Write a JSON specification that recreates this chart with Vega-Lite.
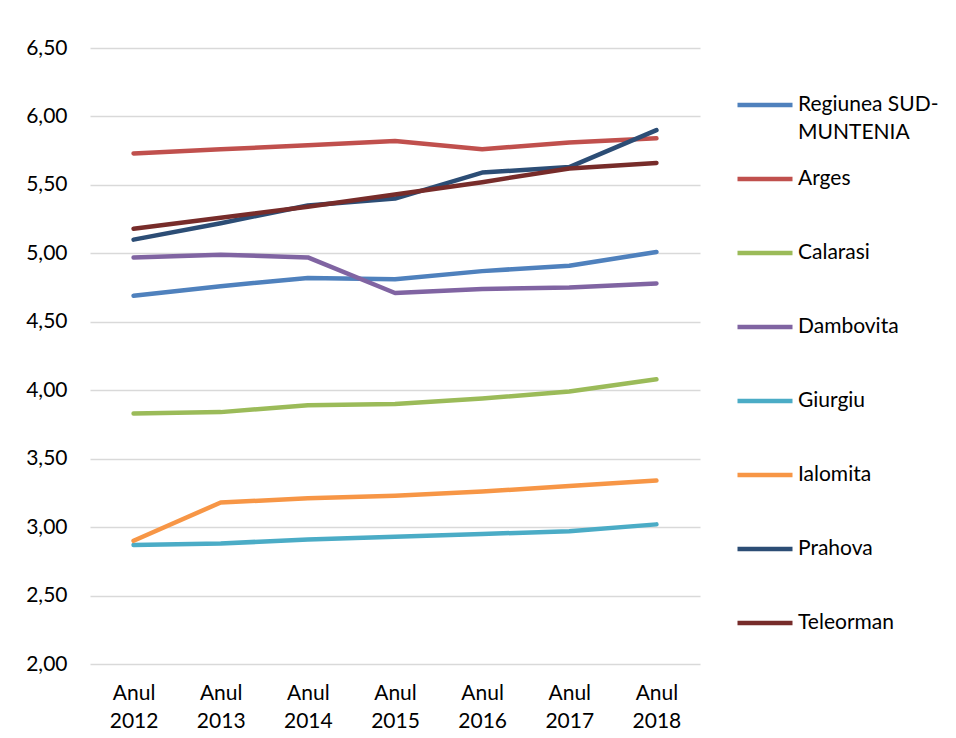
{
  "$schema": "https://vega.github.io/schema/vega-lite/v6.json",
  "autosize": {"type": "none"},
  "padding": {"left": 90, "top": 48, "right": 256, "bottom": 74},
  "width": 610,
  "height": 616,
  "background": "white",
  "config": {
    "view": {"stroke": null},
    "font": "Lato",
    "style": {"guide-label": {"lineHeight": 28}}
  },
  "data": {
    "values": [
      {"an": "Anul 2012", "serie": "Regiunea SUD-MUNTENIA", "v": 4.69},
      {"an": "Anul 2013", "serie": "Regiunea SUD-MUNTENIA", "v": 4.76},
      {"an": "Anul 2014", "serie": "Regiunea SUD-MUNTENIA", "v": 4.82},
      {"an": "Anul 2015", "serie": "Regiunea SUD-MUNTENIA", "v": 4.81},
      {"an": "Anul 2016", "serie": "Regiunea SUD-MUNTENIA", "v": 4.87},
      {"an": "Anul 2017", "serie": "Regiunea SUD-MUNTENIA", "v": 4.91},
      {"an": "Anul 2018", "serie": "Regiunea SUD-MUNTENIA", "v": 5.01},
      {"an": "Anul 2012", "serie": "Arges", "v": 5.73},
      {"an": "Anul 2013", "serie": "Arges", "v": 5.76},
      {"an": "Anul 2014", "serie": "Arges", "v": 5.79},
      {"an": "Anul 2015", "serie": "Arges", "v": 5.82},
      {"an": "Anul 2016", "serie": "Arges", "v": 5.76},
      {"an": "Anul 2017", "serie": "Arges", "v": 5.81},
      {"an": "Anul 2018", "serie": "Arges", "v": 5.84},
      {"an": "Anul 2012", "serie": "Calarasi", "v": 3.83},
      {"an": "Anul 2013", "serie": "Calarasi", "v": 3.84},
      {"an": "Anul 2014", "serie": "Calarasi", "v": 3.89},
      {"an": "Anul 2015", "serie": "Calarasi", "v": 3.90},
      {"an": "Anul 2016", "serie": "Calarasi", "v": 3.94},
      {"an": "Anul 2017", "serie": "Calarasi", "v": 3.99},
      {"an": "Anul 2018", "serie": "Calarasi", "v": 4.08},
      {"an": "Anul 2012", "serie": "Dambovita", "v": 4.97},
      {"an": "Anul 2013", "serie": "Dambovita", "v": 4.99},
      {"an": "Anul 2014", "serie": "Dambovita", "v": 4.97},
      {"an": "Anul 2015", "serie": "Dambovita", "v": 4.71},
      {"an": "Anul 2016", "serie": "Dambovita", "v": 4.74},
      {"an": "Anul 2017", "serie": "Dambovita", "v": 4.75},
      {"an": "Anul 2018", "serie": "Dambovita", "v": 4.78},
      {"an": "Anul 2012", "serie": "Giurgiu", "v": 2.87},
      {"an": "Anul 2013", "serie": "Giurgiu", "v": 2.88},
      {"an": "Anul 2014", "serie": "Giurgiu", "v": 2.91},
      {"an": "Anul 2015", "serie": "Giurgiu", "v": 2.93},
      {"an": "Anul 2016", "serie": "Giurgiu", "v": 2.95},
      {"an": "Anul 2017", "serie": "Giurgiu", "v": 2.97},
      {"an": "Anul 2018", "serie": "Giurgiu", "v": 3.02},
      {"an": "Anul 2012", "serie": "Ialomita", "v": 2.90},
      {"an": "Anul 2013", "serie": "Ialomita", "v": 3.18},
      {"an": "Anul 2014", "serie": "Ialomita", "v": 3.21},
      {"an": "Anul 2015", "serie": "Ialomita", "v": 3.23},
      {"an": "Anul 2016", "serie": "Ialomita", "v": 3.26},
      {"an": "Anul 2017", "serie": "Ialomita", "v": 3.30},
      {"an": "Anul 2018", "serie": "Ialomita", "v": 3.34},
      {"an": "Anul 2012", "serie": "Prahova", "v": 5.10},
      {"an": "Anul 2013", "serie": "Prahova", "v": 5.22},
      {"an": "Anul 2014", "serie": "Prahova", "v": 5.35},
      {"an": "Anul 2015", "serie": "Prahova", "v": 5.40},
      {"an": "Anul 2016", "serie": "Prahova", "v": 5.59},
      {"an": "Anul 2017", "serie": "Prahova", "v": 5.63},
      {"an": "Anul 2018", "serie": "Prahova", "v": 5.90},
      {"an": "Anul 2012", "serie": "Teleorman", "v": 5.18},
      {"an": "Anul 2013", "serie": "Teleorman", "v": 5.26},
      {"an": "Anul 2014", "serie": "Teleorman", "v": 5.34},
      {"an": "Anul 2015", "serie": "Teleorman", "v": 5.43},
      {"an": "Anul 2016", "serie": "Teleorman", "v": 5.52},
      {"an": "Anul 2017", "serie": "Teleorman", "v": 5.62},
      {"an": "Anul 2018", "serie": "Teleorman", "v": 5.66}
    ]
  },
  "mark": {"type": "line", "strokeWidth": 4.5, "strokeCap": "round", "strokeJoin": "round"},
  "encoding": {
    "x": {
      "field": "an", "type": "nominal", "sort": null,
      "scale": {"type": "point", "padding": 0.5},
      "axis": {
        "title": null, "domain": false, "ticks": false, "grid": false,
        "labelAngle": 0, "labelFontSize": 21, "labelColor": "#000000",
        "labelLineHeight": 28, "labelPadding": 18, "labelBaseline": "top",
        "labelExpr": "split(datum.label, ' ')"
      }
    },
    "y": {
      "field": "v", "type": "quantitative",
      "scale": {"domain": [2, 6.5], "nice": false, "zero": false},
      "axis": {
        "title": null, "domain": false, "ticks": false,
        "values": [2, 2.5, 3, 3.5, 4, 4.5, 5, 5.5, 6, 6.5],
        "gridColor": "#d9d9d9", "gridWidth": 1.5,
        "labelFontSize": 21, "labelColor": "#000000", "labelPadding": 23,
        "labelExpr": "replace(format(datum.value, '.2f'), '.', ',')"
      }
    },
    "color": {
      "field": "serie", "type": "nominal",
      "scale": {
        "domain": ["Regiunea SUD-MUNTENIA", "Arges", "Calarasi", "Dambovita", "Giurgiu", "Ialomita", "Prahova", "Teleorman"],
        "range": ["#4f81bd", "#c0504d", "#9bbb59", "#8064a2", "#4bacc6", "#f79646", "#2c4d75", "#772c2a"]
      },
      "legend": {
        "title": null, "orient": "none", "legendX": 645, "legendY": 27,
        "padding": 0, "gridAlign": "all",
        "symbolType": "stroke", "symbolSize": 3025, "symbolStrokeWidth": 4.5,
        "labelFontSize": 21, "labelColor": "#000000", "labelOffset": 3,
        "labelLimit": 300, "rowPadding": 6,
        "labelExpr": "datum.label == 'Regiunea SUD-MUNTENIA' ? ['Regiunea SUD-', 'MUNTENIA'] : datum.label"
      }
    }
  }
}
